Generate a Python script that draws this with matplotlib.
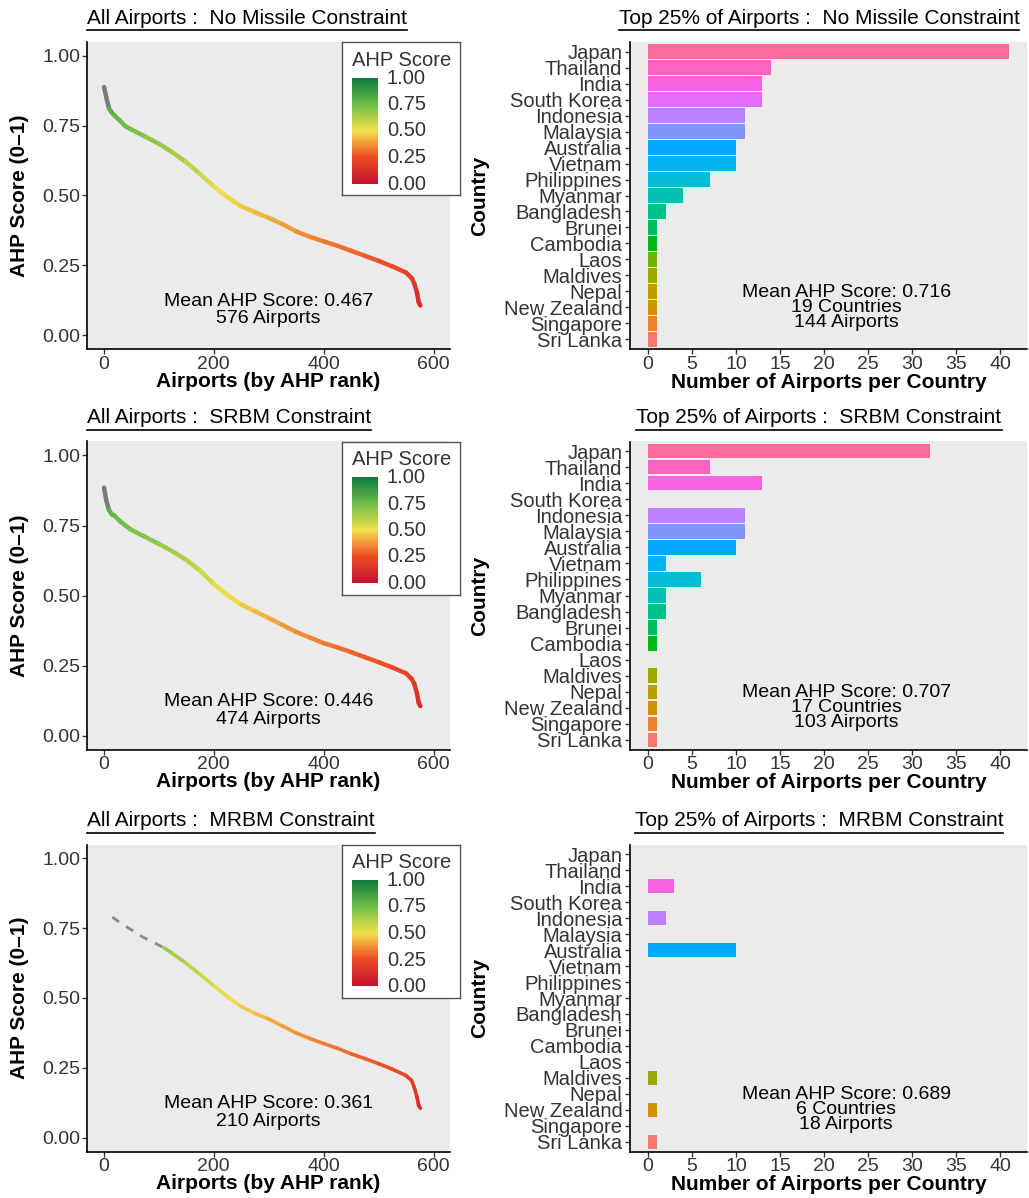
import numpy as np
import matplotlib
matplotlib.use("Agg")
import matplotlib.pyplot as plt
from matplotlib.collections import LineCollection
from matplotlib.colors import LinearSegmentedColormap, Normalize
from matplotlib.lines import Line2D

plt.rcParams['font.family'] = ['Liberation Sans', 'DejaVu Sans']

W, H = 1029, 1198

# AHP score curves (rank, score)
rank_all = [1, 5, 10, 15, 20, 30, 40, 50, 75, 100, 125, 150, 175, 200, 225, 250,
            275, 300, 325, 350, 375, 400, 425, 450, 475, 500, 525, 550, 560, 565,
            570, 573, 576]
score_none = [0.889, 0.852, 0.812, 0.797, 0.787, 0.768, 0.748, 0.737, 0.712, 0.686,
              0.655, 0.620, 0.578, 0.534, 0.494, 0.462, 0.440, 0.420, 0.398, 0.372,
              0.352, 0.336, 0.320, 0.302, 0.284, 0.266, 0.246, 0.224, 0.205, 0.185,
              0.152, 0.118, 0.106]
score_srbm = [0.885, 0.840, 0.805, 0.790, 0.785, 0.765, 0.750, 0.735, 0.710, 0.685,
              0.658, 0.628, 0.590, 0.542, 0.502, 0.468, 0.444, 0.420, 0.395, 0.370,
              0.350, 0.330, 0.315, 0.298, 0.280, 0.262, 0.243, 0.222, 0.203, 0.185,
              0.150, 0.118, 0.105]
rank_mrbm = [16, 30, 50, 70, 90, 110, 125, 150, 175, 200, 225, 250, 275, 300, 325,
             350, 375, 400, 425, 450, 475, 500, 525, 550, 560, 565, 570, 573, 576]
score_mrbm = [0.790, 0.770, 0.745, 0.720, 0.700, 0.680, 0.660, 0.625, 0.585, 0.545,
              0.505, 0.470, 0.445, 0.425, 0.400, 0.375, 0.355, 0.337, 0.320, 0.300,
              0.283, 0.265, 0.245, 0.222, 0.205, 0.180, 0.145, 0.115, 0.105]

# top 25% airports per country (bottom to top on the axis)
countries = ["Sri Lanka", "Singapore", "New Zealand", "Nepal", "Maldives", "Laos",
             "Cambodia", "Brunei", "Bangladesh", "Myanmar", "Philippines", "Vietnam",
             "Australia", "Malaysia", "Indonesia", "South Korea", "India", "Thailand",
             "Japan"]
count_none = [1, 1, 1, 1, 1, 1, 1, 1, 2, 4, 7, 10, 10, 11, 11, 13, 13, 14, 41]
count_srbm = [1, 1, 1, 1, 1, 0, 1, 1, 2, 2, 6, 2, 10, 11, 11, 0, 13, 7, 32]
count_mrbm = [1, 0, 1, 0, 1, 0, 0, 0, 0, 0, 0, 0, 10, 0, 2, 0, 3, 0, 0]

scenarios = ["No Missile Constraint", "SRBM Constraint", "MRBM Constraint"]
mean_all = [0.467, 0.446, 0.361]
n_airports = [576, 474, 210]
mean_top = [0.716, 0.707, 0.689]
n_countries = [19, 17, 6]
n_top = [144, 103, 18]


def hcl_rgb(h, c=100, l=65):
    # ggplot2 hue palette colour (CIE-Luv polar -> sRGB)
    hr = np.deg2rad(h)
    U, V = c * np.cos(hr), c * np.sin(hr)
    Xn, Yn, Zn = 95.047, 100.0, 108.883
    Y = Yn * ((l + 16) / 116) ** 3
    un = 4 * Xn / (Xn + 15 * Yn + 3 * Zn)
    vn = 9 * Yn / (Xn + 15 * Yn + 3 * Zn)
    u = U / (13 * l) + un
    v = V / (13 * l) + vn
    X = 9.0 * Y * u / (4 * v)
    Z = -X / 3 - 5 * Y + 3 * Y / v
    M = np.array([[3.240479, -1.537150, -0.498535],
                  [-0.969256, 1.875992, 0.041556],
                  [0.055648, -0.204043, 1.057311]])
    rgb = M @ (np.array([X, Y, Z]) / 100)
    rgb = np.clip(rgb, 0, None)
    rgb = np.where(rgb <= 0.0031308, 12.92 * rgb, 1.055 * rgb ** (1 / 2.4) - 0.055)
    return np.clip(rgb, 0, 1)


hues = 15 + np.arange(len(countries)) * 360 / len(countries)
bar_colors = [hcl_rgb(h) for h in hues]

cmap = LinearSegmentedColormap.from_list(
    "ahp", [(0.0, "#c4122f"), (0.25, "#ef4a26"), (0.5, "#f2e24a"),
            (0.75, "#6fbf4a"), (1.0, "#0f7a3c")])
norm = Normalize(0, 1)

fig = plt.figure(figsize=(W / 100, H / 100), dpi=100)
BG = "#ebebeb"
TXT = "#333333"


def px_axes(x0, y0, x1, y1, **kw):
    return fig.add_axes([x0 / W, 1 - y1 / H, (x1 - x0) / W, (y1 - y0) / H], **kw)


def style(ax):
    ax.set_facecolor(BG)
    for s in ["top", "right"]:
        ax.spines[s].set_visible(False)
    for s in ["left", "bottom"]:
        ax.spines[s].set_linewidth(1.2)
        ax.spines[s].set_color("black")
    ax.tick_params(length=3.5, width=1.0, color=TXT, labelcolor=TXT,
                   labelsize=14, pad=1.5)


tops = [42, 441.5, 844.5]
bottoms = [349, 749.5, 1151.5]
titles = []

for i in range(3):
    top, bot = tops[i], bottoms[i]

    # ---------------- left: score curve ----------------
    ax = px_axes(87, top, 450, bot)
    style(ax)
    if i == 0:
        r, s, grey_until = rank_all, score_none, 12
    elif i == 1:
        r, s, grey_until = rank_all, score_srbm, 12
    else:
        r, s, grey_until = rank_mrbm, score_mrbm, 110
    r = np.array(r, float)
    s = np.array(s, float)
    pts = np.column_stack([r, s]).reshape(-1, 1, 2)
    segs = np.concatenate([pts[:-1], pts[1:]], axis=1)
    cols = []
    for k in range(len(segs)):
        if r[k + 1] <= grey_until:
            cols.append("#7a7a7a")
        else:
            cols.append(cmap(norm((s[k] + s[k + 1]) / 2)))
    if i == 2:
        grey = r <= grey_until
        ax.plot(r[grey], s[grey], color="#8a8a8a", lw=2.0, ls=(0, (3, 3)))
        keep = ~grey[1:]
        lc = LineCollection(segs[keep], colors=[c for c, k in zip(cols, keep) if k],
                            linewidths=2.6, capstyle="round")
    else:
        lc = LineCollection(segs, colors=cols, linewidths=3.2, capstyle="round")
    ax.add_collection(lc)
    ax.set_xlim(-30, 630)
    ax.set_ylim(-0.05, 1.05)
    ax.set_xticks([0, 200, 400, 600])
    ax.set_yticks([0, 0.25, 0.5, 0.75, 1.0])
    ax.set_yticklabels(["0.00", "0.25", "0.50", "0.75", "1.00"])
    ax.text(300, 0.09, f"Mean AHP Score: {mean_all[i]:.3f}\n{n_airports[i]} Airports",
            ha="center", va="center", fontsize=14, color="black", linespacing=1.05)
    fig.text(268.5 / W, 1 - (bot + 32) / H, "Airports (by AHP rank)", ha="center",
             va="center", fontsize=15, fontweight="bold", color="black")
    fig.text(20 / W, 1 - ((top + bot) / 2) / H, "AHP Score (0\u20131)", rotation=90,
             ha="center", va="center", fontsize=15, fontweight="bold", color="black")
    t = fig.text(87 / W, 1 - (top - 24) / H,
                 f"All Airports :  {scenarios[i]}", ha="left", va="center",
                 fontsize=15, color="black")
    titles.append((t, top))

    # legend box with colour bar
    lg = px_axes(342, top, 460, top + 153, zorder=5)
    lg.set_xticks([])
    lg.set_yticks([])
    lg.set_facecolor("white")
    for sp in lg.spines.values():
        sp.set_color("#555555")
        sp.set_linewidth(1.0)
    grad = np.linspace(1, 0, 200).reshape(-1, 1)
    lg.imshow(grad, cmap=cmap, norm=norm, aspect="auto", extent=(10, 36, 142, 36))
    lg.set_xlim(0, 118)
    lg.set_ylim(153, 0)
    lg.text(10, 18, "AHP Score", ha="left", va="center", fontsize=14.5, color=TXT)
    for v in [0, 0.25, 0.5, 0.75, 1.0]:
        lg.text(45, 36 + (1 - v) * 106, f"{v:.2f}", ha="left", va="center",
                fontsize=14.5, color=TXT)

    # ---------------- right: bars per country ----------------
    bx = px_axes(630, top, 1027, bot)
    style(bx)
    counts = [count_none, count_srbm, count_mrbm][i]
    ypos = np.arange(1, len(countries) + 1)
    bx.barh(ypos, counts, height=0.9, color=bar_colors)
    bx.set_xlim(-2.05, 43.05)
    bx.set_ylim(0.4, len(countries) + 0.6)
    bx.set_xticks(range(0, 41, 5))
    bx.set_yticks(ypos)
    bx.set_yticklabels(countries, fontsize=14.5)
    bx.tick_params(axis="y", pad=2)
    bx.text(22.5, 3, f"Mean AHP Score: {mean_top[i]:.3f}\n{n_countries[i]} Countries\n{n_top[i]} Airports",
            ha="center", va="center", fontsize=14, color="black", linespacing=0.85)
    fig.text(828.5 / W, 1 - (bot + 33) / H, "Number of Airports per Country",
             ha="center", va="center", fontsize=15, fontweight="bold", color="black")
    fig.text(480 / W, 1 - ((top + bot) / 2) / H, "Country", rotation=90,
             ha="center", va="center", fontsize=15, fontweight="bold", color="black")
    t = fig.text(819 / W, 1 - (top - 24) / H,
                 f"Top 25% of Airports :  {scenarios[i]}", ha="center", va="center",
                 fontsize=15, color="black")
    titles.append((t, top))

# underline the panel titles
fig.canvas.draw()
rend = fig.canvas.get_renderer()
for t, top in titles:
    bb = t.get_window_extent(rend)
    yl = 1 - (top - 12) / H
    fig.add_artist(Line2D([bb.x0 / W, bb.x1 / W], [yl, yl], color="black", lw=1.2))

fig.savefig("out.png", dpi=100)
